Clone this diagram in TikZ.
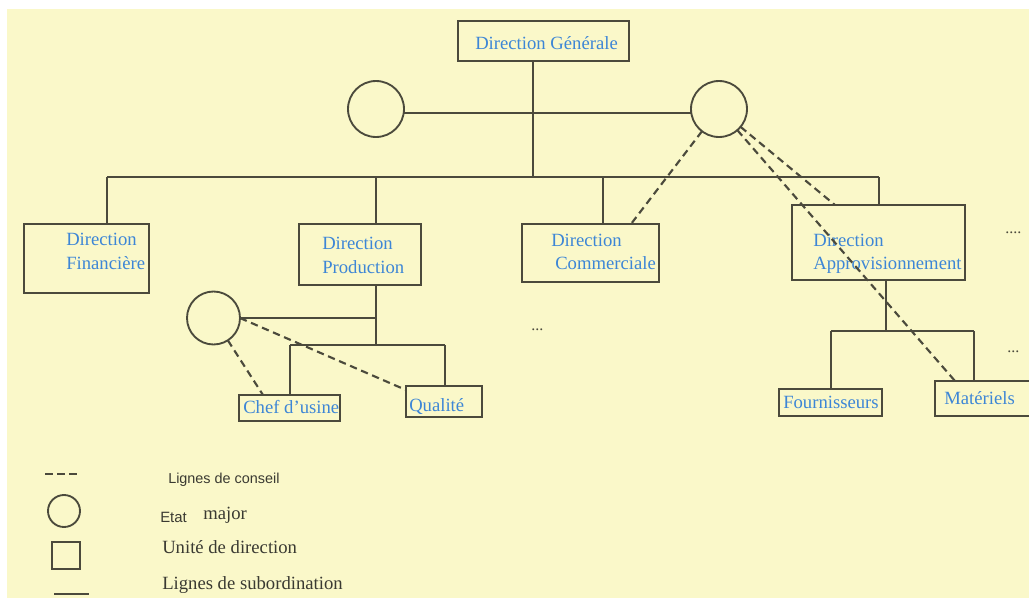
\documentclass[tikz,border=0pt]{standalone}
\usepackage{fontspec}
\setmainfont{Liberation Serif}
\newfontfamily\legendsans{Liberation Sans}
\definecolor{paper}{HTML}{FAF8C9}
\definecolor{ink}{HTML}{4B4A3C}
\definecolor{unitblue}{HTML}{3D86D6}
\definecolor{legendink}{HTML}{3A3A32}
\tikzset{
  unit/.style={draw=ink, line width=1.7pt, rectangle, inner sep=0pt, outer sep=0pt},
  staff/.style={draw=ink, line width=1.4pt, circle, inner sep=0pt, outer sep=0pt},
  subord/.style={draw=ink, line width=1.5pt},
  advice/.style={draw=ink, line width=1.6pt, dash pattern=on 5.5pt off 3.5pt},
  lbl/.style={text=unitblue, font=\fontsize{14}{18}\selectfont, anchor=base west, inner sep=0pt},
  legserif/.style={text=legendink, font=\fontsize{14}{18}\selectfont, anchor=base west, inner sep=0pt},
  legsans/.style={text=legendink, anchor=base west, inner sep=0pt},
  etc/.style={text=ink, font=\fontsize{12}{14}\selectfont, anchor=base west, inner sep=0pt}
}
\begin{document}
\begin{tikzpicture}[x=0.75pt,y=-0.75pt]
\useasboundingbox (0,0) rectangle (1029,601);
\clip (0,0) rectangle (1029,601);
\fill[white] (0,0) rectangle (1029,601);
\fill[paper] (7,9) rectangle (1029,598);

% units (rectangles)
\node[unit, minimum width=128.25pt, minimum height=30pt]    (dg)    at (543.5,41)   {};
\node[unit, minimum width=93.75pt,  minimum height=51.75pt] (fin)   at (86.5,258.5) {};
\node[unit, minimum width=91.5pt,   minimum height=45.75pt] (prod)  at (360,254.5)  {};
\node[unit, minimum width=102.75pt, minimum height=43.5pt]  (comm)  at (590.5,253)  {};
\node[unit, minimum width=129.75pt, minimum height=56.25pt] (appro) at (878.5,242.5) {};
\node[unit, minimum width=75.75pt,  minimum height=19.5pt]  (chef)  at (289.5,408)  {};
\node[unit, minimum width=57pt,     minimum height=23.25pt] (qual)  at (444,401.5)  {};
\node[unit, minimum width=77.25pt,  minimum height=20.25pt] (four)  at (830.5,402.5) {};
\node[unit, minimum width=75pt,     minimum height=26.25pt] (mat)   at (985,398.5)  {};

% staff circles
\node[staff, minimum size=42pt]    (lc) at (376,109) {};
\node[staff, minimum size=42pt]    (rc) at (719,109) {};
\node[staff, minimum size=39.75pt] (sc) at (213.5,318) {};

% unit labels
\node[lbl] (tDG)   at (475,49)  {Direction Générale};
\node[lbl] (tFin1) at (66,245)  {Direction};
\node[lbl] (tFin2) at (66,269)  {Financière};
\node[lbl] (tPro1) at (322,249) {Direction};
\node[lbl] (tPro2) at (322,273) {Production};
\node[lbl] (tCom1) at (551,246) {Direction};
\node[lbl] (tCom2) at (555,269) {Commerciale};
\node[lbl] (tApp1) at (813,246) {Direction};
\node[lbl] (tApp2) at (813,269) {Approvisionnement};
\node[lbl] (tChef) at (243,413) {Chef d'usine};
\node[lbl] (tQual) at (409,411) {Qualité};
\node[lbl] (tFour) at (783,408) {Fournisseurs};
\node[lbl] (tMat)  at (944,404) {Matériels};

% continuation marks
\node[etc] (e1) at (1005,233) {....};
\node[etc] (e2) at (531,330)  {...};
\node[etc] (e3) at (1007,352) {...};

% junction points of the subordination tree
\coordinate (j0)   at (533,177);
\coordinate (busL) at (107,177);
\coordinate (busR) at (879,177);
\coordinate (j1)   at (376,177);
\coordinate (j2)   at (603,177);
\coordinate (p1)   at (376,345);
\coordinate (pL)   at (290,345);
\coordinate (pR)   at (445,345);
\coordinate (a1)   at (886,331);
\coordinate (aL)   at (831,331);
\coordinate (aR)   at (974,331);

% subordination lines
\draw[subord] (dg.south -| j0) -- (j0);
\draw[subord] (lc.-8) -- (rc.188);
\draw[subord] (busL) -- (busR);
\draw[subord] (busL) -- (busL |- fin.north);
\draw[subord] (j1) -- (j1 |- prod.north);
\draw[subord] (j2) -- (j2 |- comm.north);
\draw[subord] (busR) -- (busR |- appro.north);
\draw[subord] (prod.south -| p1) -- (p1);
\draw[subord] (sc.east) -- (sc.east -| p1);
\draw[subord] (pL) -- (pR);
\draw[subord] (pL) -- (pL |- chef.north);
\draw[subord] (pR) -- (pR |- qual.north);
\draw[subord] (appro.south -| a1) -- (a1);
\draw[subord] (aL) -- (aR);
\draw[subord] (aL) -- (aL |- four.north);
\draw[subord] (aR) -- (aR |- mat.north);

% advice lines
\coordinate (dComm)  at (631,224);
\coordinate (dAppro) at (835,205);
\coordinate (dMat)   at (955,381);
\coordinate (dChef)  at (263,395);
\coordinate (dQual)  at (406,390);
\draw[advice] (rc) -- (dComm);
\draw[advice] (rc) -- (dAppro);
\draw[advice] (rc) -- (dMat);
\draw[advice] (sc) -- (dChef);
\draw[advice] (sc.east) -- (dQual);

% legend
\coordinate (lgA) at (45,474);
\coordinate (lgB) at (78,474);
\draw[advice, dash pattern=on 6pt off 3pt] (lgA) -- (lgB);
\node[staff, minimum size=24pt] (lgCircle) at (64,511) {};
\node[unit, line width=1.5pt, minimum width=21pt, minimum height=20.25pt] (lgSquare) at (66,555.5) {};
\coordinate (lgC) at (54,594);
\coordinate (lgD) at (89,594);
\draw[subord] (lgC) -- (lgD);

\node[legsans, font=\legendsans\fontsize{10.8}{13}\selectfont] (lgT1) at (168,483) {Lignes de conseil};
\node[legsans, font=\legendsans\fontsize{11.2}{13}\selectfont] (lgT2) at (160,522) {Etat};
\node[legserif] (lgT3) at (203,519) {major};
\node[legserif] (lgT4) at (162,553) {Unité de direction};
\node[legserif] (lgT5) at (162,589) {Lignes de subordination};
\end{tikzpicture}
\end{document}
